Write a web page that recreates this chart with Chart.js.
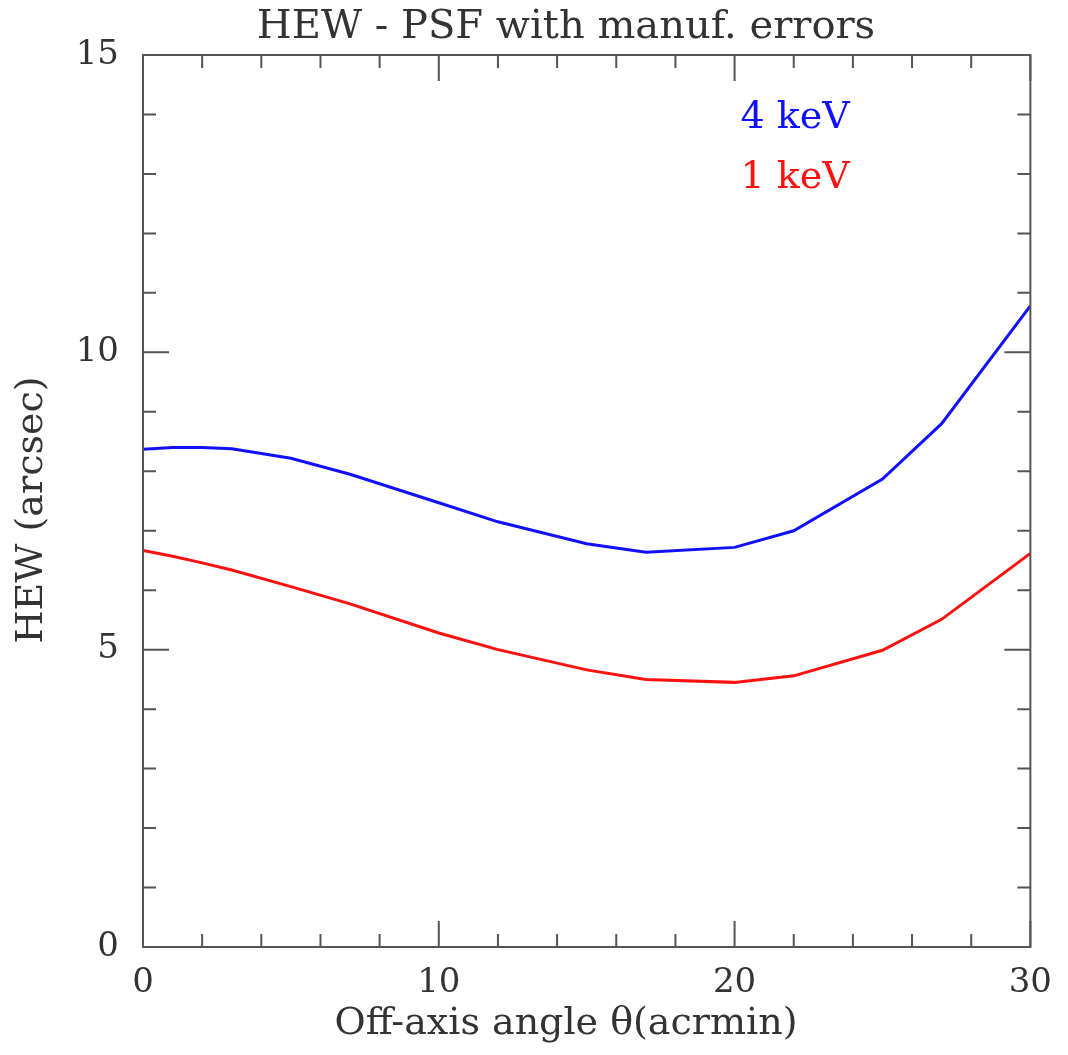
<!DOCTYPE html>
<html>
<head>
<meta charset="utf-8">
<script src="https://cdn.jsdelivr.net/npm/chart.js@4/dist/chart.umd.min.js"></script>
<style>
  html, body { margin: 0; padding: 0; background: #fff; }
  #wrap { width: 1068px; height: 1055px; }
</style>
</head>
<body>
<div id="wrap"><canvas id="hew"></canvas></div>
<script>
// Off-axis angle (arcmin) and HEW (arcsec)
const angles = [0, 1, 2, 3, 5, 7, 10, 12, 15, 17, 20, 22, 25, 27, 30];
const hew4keV = [8.37, 8.40, 8.40, 8.38, 8.22, 7.95, 7.47, 7.15, 6.78, 6.64, 6.72, 7.00, 7.87, 8.80, 10.78];
const hew1keV = [6.67, 6.57, 6.46, 6.34, 6.06, 5.77, 5.28, 5.00, 4.66, 4.50, 4.45, 4.56, 4.99, 5.51, 6.62];

const xTicks = [0, 10, 20, 30];
const yTicks = [0, 5, 10, 15];

const FONT = '"DejaVu Serif", serif';
const TEXT = '#333';
const AXIS = '#555';

// Legend text placed inside the plot (data coordinates)
const legendItems = [
  { text: '4 keV', color: '#1010ff', x: 20.2, y: 13.94 },
  { text: '1 keV', color: '#ff1010', x: 20.2, y: 12.93 }
];

// Titles are centred on the plotting viewport, not the axes box (like PGPLOT)
const titles = [
  { text: 'HEW - PSF with manuf. errors', size: 40, x: 566, y: 28, rot: 0 },
  { text: 'Off-axis angle θ(acrmin)', size: 38, x: 566, y: 1024, rot: 0 },
  { text: 'HEW (arcsec)', size: 38, x: 32, y: 510, rot: -Math.PI / 2 }
];

// Frame + inward ticks on all four sides, PGPLOT style
const framePlugin = {
  id: 'frame',
  afterDatasetsDraw(chart) {
    const { ctx, chartArea: a, scales: { x, y } } = chart;
    ctx.save();
    ctx.strokeStyle = AXIS;
    ctx.lineWidth = 2;
    ctx.beginPath();
    for (let v = 0; v <= 30; v += 2) {
      const px = x.getPixelForValue(v);
      const len = v % 10 === 0 ? 26 : 13;
      ctx.moveTo(px, a.bottom); ctx.lineTo(px, a.bottom - len);
      ctx.moveTo(px, a.top); ctx.lineTo(px, a.top + len);
    }
    for (let v = 0; v <= 15; v += 1) {
      const py = y.getPixelForValue(v);
      const len = v % 5 === 0 ? 26 : 13;
      ctx.moveTo(a.left, py); ctx.lineTo(a.left + len, py);
      ctx.moveTo(a.right, py); ctx.lineTo(a.right - len, py);
    }
    ctx.stroke();
    ctx.strokeRect(a.left, a.top, a.right - a.left, a.bottom - a.top);

    ctx.font = '38px ' + FONT;
    ctx.textAlign = 'left';
    ctx.textBaseline = 'middle';
    legendItems.forEach(item => {
      ctx.fillStyle = item.color;
      ctx.fillText(item.text, x.getPixelForValue(item.x), y.getPixelForValue(item.y));
    });
    ctx.restore();
  },
  afterDraw(chart) {
    const ctx = chart.ctx;
    titles.forEach(t => {
      ctx.save();
      ctx.translate(t.x, t.y);
      ctx.rotate(t.rot);
      ctx.font = t.size + 'px ' + FONT;
      ctx.fillStyle = TEXT;
      ctx.textAlign = 'center';
      ctx.textBaseline = 'middle';
      ctx.fillText(t.text, 0, 0);
      ctx.restore();
    });
  }
};

new Chart(document.getElementById('hew'), {
  type: 'line',
  data: {
    datasets: [
      {
        label: '4 keV',
        data: angles.map((a, i) => ({ x: a, y: hew4keV[i] })),
        borderColor: '#1010ff',
        borderWidth: 3,
        pointRadius: 0,
        tension: 0
      },
      {
        label: '1 keV',
        data: angles.map((a, i) => ({ x: a, y: hew1keV[i] })),
        borderColor: '#ff1010',
        borderWidth: 3,
        pointRadius: 0,
        tension: 0
      }
    ]
  },
  options: {
    responsive: true,
    maintainAspectRatio: false,
    animation: false,
    layout: { padding: { top: 55, right: 36, bottom: 0, left: 0 } },
    plugins: {
      legend: { display: false },
      tooltip: { enabled: false },
      title: { display: false }
    },
    scales: {
      x: {
        type: 'linear',
        min: 0,
        max: 30,
        afterBuildTicks: s => { s.ticks = xTicks.map(v => ({ value: v })); },
        afterFit: s => { s.height = 108; },
        grid: { display: false, drawTicks: false },
        border: { display: false },
        ticks: {
          color: TEXT,
          padding: 16,
          maxRotation: 0,
          font: { family: FONT, size: 34 }
        }
      },
      y: {
        type: 'linear',
        min: 0,
        max: 15,
        afterBuildTicks: s => { s.ticks = yTicks.map(v => ({ value: v })); },
        afterFit: s => { s.width = 143; },
        grid: { display: false, drawTicks: false },
        border: { display: false },
        ticks: {
          color: TEXT,
          padding: 24,
          font: { family: FONT, size: 34 }
        }
      }
    }
  },
  plugins: [framePlugin]
});
</script>
</body>
</html>
